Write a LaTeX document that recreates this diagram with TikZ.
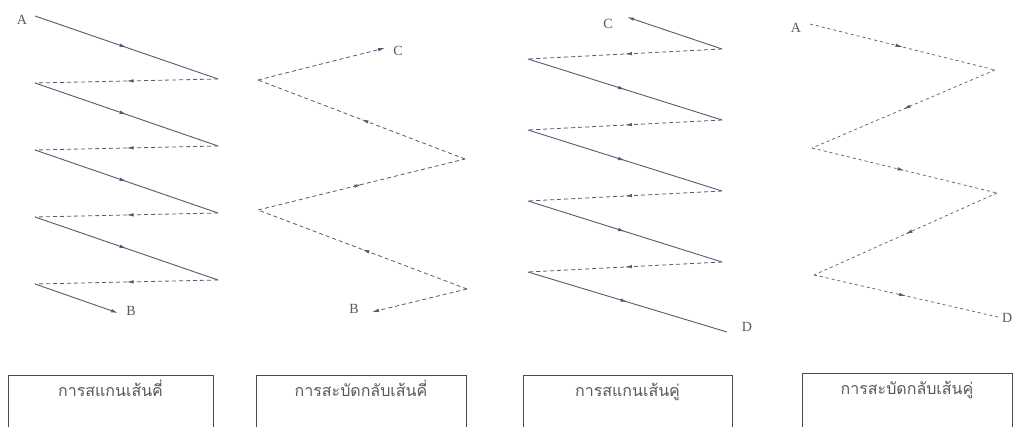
\documentclass[tikz,border=0pt]{standalone}
\usepackage{fontspec}
\setmainfont{Liberation Serif}
\newfontfamily\thaifont[Script=Thai]{Loma}
\usetikzlibrary{arrows.meta,decorations.markings}
\definecolor{scanline}{rgb}{0.33,0.36,0.45}

\begin{document}
\begin{tikzpicture}[x=1pt,y=-1pt,
  trace/.style={draw=scanline,line width=0.9pt},
  retrace/.style={draw=scanline,line width=0.8pt,dash pattern=on 4pt off 3pt},
  fine/.style={draw=scanline,line width=0.7pt,dash pattern=on 3pt off 3pt},
  midarrow/.style={postaction={decorate},decoration={markings,
      mark=at position 0.5 with {\arrow{Latex[length=7pt,width=3.5pt]}}}},
  tip/.style={-{Latex[length=7pt,width=3.5pt]}},
  letter/.style={text=black!65,font=\fontsize{14}{14}\selectfont,inner sep=1pt},
  caption/.style={draw=black!70,line width=0.8pt,anchor=north,
      minimum width=#1,text height=17pt,text depth=40pt,inner ysep=4pt,
      text=black!65,font=\thaifont\fontsize{16}{16}\selectfont}
]
\fill[white] (0,0) rectangle (1015,427);
\useasboundingbox (0,0) rectangle (1015,427);

% odd line scan
\foreach \k in {0,...,4} \coordinate (p1l\k) at (35,16+67*\k);
\foreach \k in {0,...,3} \coordinate (p1r\k) at (218,79+67*\k);
\coordinate (p1b) at (118,313);
\foreach \k [evaluate=\k as \n using int(\k+1)] in {0,...,3} {
  \draw[trace,midarrow] (p1l\k) -- (p1r\k);
  \draw[retrace,midarrow] (p1r\k) -- (p1l\n);
}
\draw[trace,tip] (p1l4) -- (p1b);
\node[letter] (a1) at (22,20) {A};
\node[letter] (b1) at (131,311) {B};

% odd line flyback
\coordinate (p2b) at (372,312);
\coordinate (p2r2) at (467,289);
\coordinate (p2l2) at (258,210);
\coordinate (p2r1) at (465,159);
\coordinate (p2l1) at (258,80);
\coordinate (p2c) at (385,48);
\draw[retrace,tip] (p2r2) -- (p2b);
\draw[retrace,midarrow] (p2r2) -- (p2l2);
\draw[retrace,midarrow] (p2l2) -- (p2r1);
\draw[retrace,midarrow] (p2r1) -- (p2l1);
\draw[retrace,tip] (p2l1) -- (p2c);
\node[letter] (c2) at (398,51) {C};
\node[letter] (b2) at (354,309) {B};

% even line scan
\coordinate (p3c) at (627,17);
\foreach \k in {0,...,3} {
  \coordinate (p3r\k) at (722,49+71*\k);
  \coordinate (p3l\k) at (528,59+71*\k);
}
\coordinate (p3d) at (727,332);
\draw[trace,{Latex[length=7pt,width=3.5pt]}-] (p3c) -- (p3r0);
\foreach \k [evaluate=\k as \n using int(\k+1)] in {0,...,2} {
  \draw[retrace,midarrow] (p3r\k) -- (p3l\k);
  \draw[trace,midarrow] (p3l\k) -- (p3r\n);
}
\draw[retrace,midarrow] (p3r3) -- (p3l3);
\draw[trace,midarrow] (p3l3) -- (p3d);
\node[letter] (c3) at (608,24) {C};
\node[letter] (d3) at (747,327) {D};

% even line flyback
\coordinate (p4a) at (810,24);
\coordinate (p4r1) at (995,70);
\coordinate (p4l1) at (812,148);
\coordinate (p4r2) at (997,193);
\coordinate (p4l2) at (814,275);
\coordinate (p4d) at (998,317);
\draw[fine,midarrow] (p4a) -- (p4r1);
\draw[fine,midarrow] (p4r1) -- (p4l1);
\draw[fine,midarrow] (p4l1) -- (p4r2);
\draw[fine,midarrow] (p4r2) -- (p4l2);
\draw[fine,midarrow] (p4l2) -- (p4d);
\node[letter] (a4) at (796,28) {A};
\node[letter,anchor=west] (d4) at (1001,318) {D};

% captions
\node[caption=205pt] (oddscan) at (110.5,375) {การสแกนเส้นคี่};
\node[caption=210pt] (oddfly) at (361,375) {การสะบัดกลับเส้นคี่};
\node[caption=209pt] (evenscan) at (627.5,375) {การสแกนเส้นคู่};
\node[caption=210pt] (evenfly) at (907,373) {การสะบัดกลับเส้นคู่};
\end{tikzpicture}
\end{document}
